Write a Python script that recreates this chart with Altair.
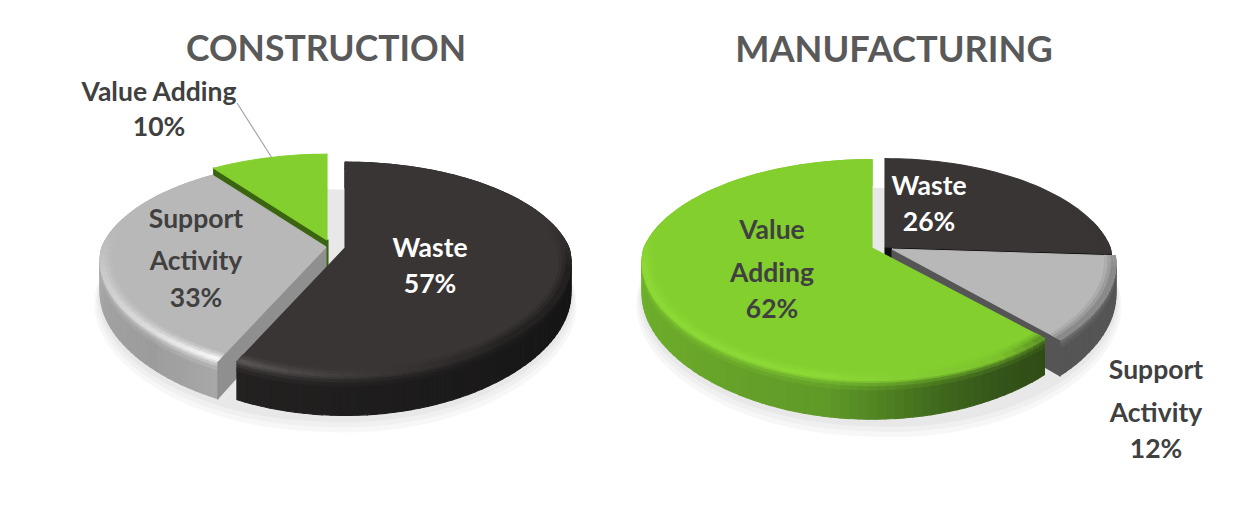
import numpy as np
import pandas as pd
import altair as alt

# ---- values (percent of time) ----
panels = ["CONSTRUCTION", "MANUFACTURING"]
construction_share = {"Waste": 57, "Support Activity": 33, "Value Adding": 10}
manufacturing_share = {"Waste": 26, "Support Activity": 12, "Value Adding": 62}

# ---- labels: text, x, y, colour, size ----
labels = [
    ("CONSTRUCTION", 326, 50, "#595959", 35.5),
    ("MANUFACTURING", 894, 51, "#595959", 36.2),
    ("Value Adding", 159, 93, "#404040", 26.5),
    ("10%", 159, 128, "#404040", 26.5),
    ("Support", 196, 220, "#404040", 26.5),
    ("Activity", 196, 262, "#404040", 26.5),
    ("33%", 196, 299, "#404040", 26.5),
    ("Waste", 430, 249, "#ffffff", 26.5),
    ("57%", 430, 285, "#ffffff", 26.5),
    ("Waste", 929, 187, "#ffffff", 26.5),
    ("26%", 929, 223, "#ffffff", 26.5),
    ("Value", 772, 231, "#404040", 26.5),
    ("Adding", 772, 274, "#404040", 26.5),
    ("62%", 772, 310, "#404040", 26.5),
    ("Support", 1156, 371, "#404040", 26.5),
    ("Activity", 1156, 414, "#404040", 26.5),
    ("12%", 1156, 450, "#404040", 26.5),
]
leader_x = [237, 272]
leader_y = [103, 158]

K = 0.2          # perspective strength, vertical
KX_FAR = 0.2     # perspective strength, horizontal, far half
KX_NEAR = 0.13   # perspective strength, horizontal, near half
THICK = 31       # pie thickness


def hex2rgb(c):
    return np.array([int(c[i:i + 2], 16) for i in (1, 3, 5)], float)


def rgb2hex(a):
    return "#%02x%02x%02x" % tuple(int(round(v)) for v in a)


def mix(a, b, t):
    return rgb2hex(hex2rgb(a) * (1 - t) + hex2rgb(b) * t)


def ramp(stops, deg):
    ds = [s[0] for s in stops]
    rs = np.array([hex2rgb(s[1]) for s in stops])
    return rgb2hex([np.interp(deg, ds, rs[:, j]) for j in range(3)])


def project(ax, ay, sx, sy, deg, r=1.0, z=0.0):
    th = np.radians(deg)
    u, v = r * np.sin(th), r * np.cos(th)
    w = 1 + K * v
    wx = 1 + (KX_FAR if v > 0 else KX_NEAR) * v
    return ax + sx * u / wx, ay - sy * v / w + z / w


rows = []
pid = [0]


def poly(points, color):
    pid[0] += 1
    pts = list(points) + [points[0]]
    for i, (x, y) in enumerate(pts):
        rows.append(dict(pid=pid[0], i=i, x=x, y=y, color=color))


def disc_shadow(geo, r, z, color):
    ax, ay, sx, sy = geo
    poly([project(ax, ay, sx, sy, d, r, z) for d in np.arange(0, 360, 3)], color)


def quad(geo, a, b, r0, z0, r1, z1, color):
    ax, ay, sx, sy = geo
    poly([project(ax, ay, sx, sy, a, r0, z0), project(ax, ay, sx, sy, b, r0, z0),
          project(ax, ay, sx, sy, b, r1, z1), project(ax, ay, sx, sy, a, r1, z1)], color)


def walls(geo, d0, d1, wall, hi):
    ds = np.linspace(d0, d1, max(int((d1 - d0) / 2), 2) + 1)
    for a, b in zip(ds[:-1], ds[1:]):
        m = (a + b) / 2
        c = ramp(wall, m)
        h = ramp(hi, m)
        quad(geo, a, b, 1, 7, 1, THICK, c)
        for z0, z1, t in [(0, 2.5, 0.25), (2.5, 5, 0.6), (5, 7.5, 0.85)]:
            quad(geo, a, b, 1, z0, 1, z1, mix(h, c, t))


def cut_wall(geo, deg, color):
    ax, ay, sx, sy = geo
    poly([(ax, ay), project(ax, ay, sx, sy, deg), project(ax, ay, sx, sy, deg, 1, THICK),
          (ax, ay + THICK)], color)


def top(geo, d0, d1, face, hi):
    ax, ay, sx, sy = geo
    ds = np.linspace(d0, d1, max(int((d1 - d0) / 2), 2) + 1)
    poly([(ax, ay)] + [project(ax, ay, sx, sy, d) for d in ds], face)
    ds = np.linspace(d0, d1, max(int((d1 - d0) / 3), 2) + 1)
    bands = [(0.95, 0.965, 0.25), (0.965, 0.98, 0.6), (0.98, 1.0, 1.0)]
    for a, b in zip(ds[:-1], ds[1:]):
        m = (a + b) / 2
        h = ramp(hi, m)
        # the bevel only shows on the part of the rim that faces the viewer
        fade = float(np.clip((0.25 - np.cos(np.radians(m))) / 0.45, 0, 1))
        if fade <= 0:
            continue
        for r0, r1, t in bands:
            quad(geo, a, b, r0, 0, r1, 0, mix(face, h, t * fade))


def span(share, names):
    out = {}
    acc = 0
    for n in names:
        out[n] = (acc * 3.6, (acc + share[n]) * 3.6)
        acc += share[n]
    return out


order = ["Waste", "Support Activity", "Value Adding"]
DARK, GREY, GREEN = "#3a3535", "#b8b8b8", "#83cf2e"
SHADOW = [(1.022, THICK + 10, "#f7f7f7"), (1.014, THICK + 7, "#f0f0f0"), (1.006, THICK + 4, "#e8e8e8")]

# --- construction ---
c = span(construction_share, order)
g_w = (345, 248, 224, 103)
g_s = (326, 247, 224, 103)
g_v = (327, 240, 224, 103)
for r, z, col in SHADOW:
    disc_shadow(g_w, r, z, col)
    disc_shadow(g_s, r, z, col)

w = c["Value Adding"]
cut_wall(g_v, w[0], "#3a6410")
poly([(g_v[0], g_v[1]), (g_v[0] + 1, g_v[1]), (g_v[0] + 1, g_v[1] + THICK), (g_v[0], g_v[1] + THICK)], "#3a6410")
top(g_v, w[0], w[1], GREEN, [(0, GREEN), (360, GREEN)])

w = c["Support Activity"]
s_wall = [(205, "#a8a8a8"), (225, "#9c9c9c"), (250, "#a2a2a2"), (275, "#b0b0b0"), (324, "#b4b4b4")]
s_hi = [(205, "#f6f6f6"), (225, "#dcdcdc"), (255, "#cacaca"), (285, "#bcbcbc"), (324, "#b8b8b8")]
walls(g_s, w[0], w[1], s_wall, s_hi)
cut_wall(g_s, w[0], "#8f8f8f")
top(g_s, w[0], w[1], GREY, s_hi)

w = c["Waste"]
d_wall = [(0, "#141414"), (90, "#141414"), (130, "#181717"), (180, "#1f1d1d"), (206, "#242121")]
d_hi = [(0, "#3a3535"), (70, "#2c2929"), (100, "#221f1f"), (140, "#262323"), (180, "#403b3b"), (206, "#5a5555")]
walls(g_w, w[0], w[1], d_wall, d_hi)
top(g_w, w[0], w[1], DARK, d_hi)

# --- manufacturing ---
m = span(manufacturing_share, order)
g_w = (885, 247, 225, 106)
g_s = (892, 249, 222, 106)
g_v = (872, 248, 228, 106)
for r, z, col in SHADOW:
    disc_shadow(g_v, r, z, col)
    disc_shadow(g_s, r, z, col)

w = m["Waste"]
cut_wall(g_w, w[1], "#0e0e0e")
top(g_w, w[0], w[1], DARK, [(0, DARK), (360, DARK)])

w = m["Support Activity"]
walls(g_s, w[0], w[1], [(0, "#555555"), (360, "#555555")], [(0, "#888888"), (360, "#888888")])
cut_wall(g_s, w[1], "#555555")
top(g_s, w[0], w[1], GREY, [(0, "#8a8a8a"), (360, "#8a8a8a")])

w = m["Value Adding"]
v_wall = [(136, "#2f4c14"), (150, "#33541a"), (165, "#3f681c"), (190, "#5f9a28"), (230, "#6aa82a"), (270, "#70b22c"), (360, "#70b22c")]
v_hi = [(136, "#5a8f25"), (150, "#7cc22e"), (190, "#8cd836"), (260, "#8cd836"), (300, GREEN), (360, GREEN)]
walls(g_v, w[0], w[1], v_wall, v_hi)
top(g_v, w[0], w[1], GREEN, v_hi)

shapes = pd.DataFrame(rows)
texts = pd.DataFrame(labels, columns=["text", "x", "y", "color", "size"])
leader = pd.DataFrame({"x": leader_x, "y": leader_y})

X = alt.Scale(domain=[8, 1235], range=[0, 1227])
Y = alt.Scale(domain=[8, 500], range=[0, 492])

pie = alt.Chart(shapes).mark_line(strokeWidth=1.1, interpolate="linear").encode(
    x=alt.X("x:Q", scale=X, axis=None),
    y=alt.Y("y:Q", scale=Y, axis=None),
    detail="pid:N",
    order="i:Q",
    fill=alt.Fill("color:N", scale=None),
    stroke=alt.Stroke("color:N", scale=None),
)
line = alt.Chart(leader).mark_line(color="#a6a6a6", strokeWidth=1.2).encode(
    x=alt.X("x:Q", scale=X, axis=None),
    y=alt.Y("y:Q", scale=Y, axis=None),
)
text = alt.Chart(texts).mark_text(font="Lato", fontWeight="bold", baseline="middle", align="center").encode(
    x=alt.X("x:Q", scale=X, axis=None),
    y=alt.Y("y:Q", scale=Y, axis=None),
    text="text:N",
    color=alt.Color("color:N", scale=None),
    size=alt.Size("size:Q", scale=None),
)

chart = (pie + line + text).properties(
    width=1227, height=492, padding=0,
    autosize=alt.AutoSizeParams(type="none"),
    background="#ffffff",
).configure_view(stroke=None)

chart.save("out.html", embed_options={"renderer": "svg", "actions": False})
